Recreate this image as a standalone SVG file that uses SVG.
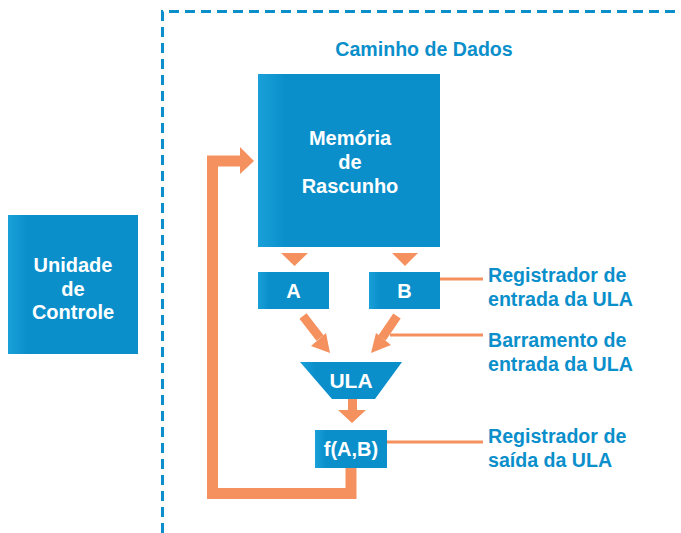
<svg xmlns="http://www.w3.org/2000/svg" width="681" height="533" viewBox="0 0 681 533">
<defs>
<linearGradient id="g" x1="0" y1="0" x2="1" y2="0">
<stop offset="0" stop-color="#1aa0d8"/>
<stop offset="0.15" stop-color="#0a8fcb"/>
<stop offset="1" stop-color="#0a8fcb"/>
</linearGradient>
<style>
.box{fill:url(#g)}
.wt{fill:#fff;font-family:"Liberation Sans",Arial,sans-serif;font-weight:bold;text-anchor:middle;font-size:20px}
.lbl{fill:#0a8fcb;font-family:"Liberation Sans",Arial,sans-serif;font-weight:bold;font-size:19.6px}
.or{fill:#f4915e}
.ln{stroke:#f4915e;fill:none}
</style>
</defs>
<path d="M162.5 533 V11.5 H681" fill="none" stroke="#0a8fcb" stroke-width="3" stroke-dasharray="10 6"/>
<text x="424" y="56" class="lbl" text-anchor="middle">Caminho de Dados</text>
<g id="controle">
<rect class="box" x="8" y="215" width="130" height="139"/>
<text class="wt" x="73" y="272">Unidade</text>
<text class="wt" x="73" y="296">de</text>
<text class="wt" x="73" y="319">Controle</text>
</g>
<g id="memoria">
<rect class="box" x="258" y="74" width="182" height="173"/>
<text class="wt" x="350" y="145">Memória</text>
<text class="wt" x="350" y="169">de</text>
<text class="wt" x="350" y="193">Rascunho</text>
</g>
<g id="regA">
<rect class="box" x="258" y="272" width="71" height="37"/>
<text class="wt" x="293.5" y="298">A</text>
</g>
<g id="regB">
<rect class="box" x="369" y="272" width="71" height="37"/>
<text class="wt" x="404.5" y="298">B</text>
</g>
<g id="ula">
<polygon class="box" points="300,362 402,362 375,399 332,399"/>
<text class="wt" style="font-size:21px" x="351" y="388">ULA</text>
</g>
<g id="fab">
<rect class="box" x="315" y="430" width="72" height="38"/>
<text class="wt" x="351" y="456">f(A,B)</text>
</g>
<g id="connectors">
<polygon class="or" points="281,253 308,253 294.5,266"/>
<polygon class="or" points="392,253 418,253 405,266"/>
<line class="ln" x1="303" y1="316" x2="320" y2="338" stroke-width="9"/>
<polygon class="or" points="330,353 311,346 326,333"/>
<line class="ln" x1="397" y1="316" x2="382" y2="338" stroke-width="9"/>
<polygon class="or" points="371,353 376,333 391,345"/>
<line class="ln" x1="352.5" y1="399" x2="352.5" y2="412" stroke-width="9"/>
<polygon class="or" points="338,410 366,410 352,423"/>
<path class="ln" d="M351 468 V493.5 H212.5 V161 H241" stroke-width="11"/>
<polygon class="or" points="240,147 254,161 240,174"/>
<line class="ln" x1="440" y1="279" x2="483" y2="279" stroke-width="3"/>
<line class="ln" x1="390" y1="335" x2="483" y2="335" stroke-width="3"/>
<line class="ln" x1="387" y1="442" x2="483" y2="442" stroke-width="3"/>
</g>
<g id="labels">
<text class="lbl" x="488" y="282">Registrador de</text>
<text class="lbl" x="488" y="306">entrada da ULA</text>
<text class="lbl" x="488" y="347">Barramento de</text>
<text class="lbl" x="488" y="371">entrada da ULA</text>
<text class="lbl" x="488" y="443">Registrador de</text>
<text class="lbl" x="488" y="467">saída da ULA</text>
</g>
</svg>
